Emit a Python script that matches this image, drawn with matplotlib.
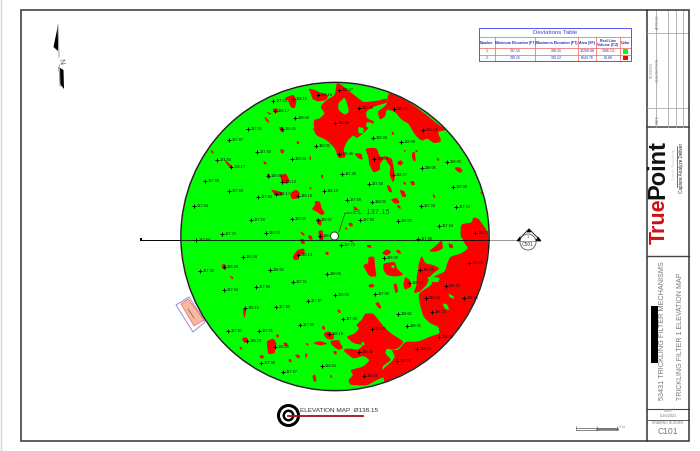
import numpy as np
import matplotlib
matplotlib.use("Agg")
import matplotlib.pyplot as plt
from matplotlib.patches import Circle, Polygon, Rectangle

plt.rcParams['font.family'] = ['Liberation Sans', 'DejaVu Sans']

# Survey points: page x, page y, elevation label
point_x = [273,293,318,275,295,248,282,229,316,257,217,231,292,205,268,282,229,276,258,298,324,194,251,292,318,222,266,320,
           339,359,394,335,423,373,401,339,374,447,422,342,393,369,453,347,372,421,456,360,398,439,475,418,
           196,243,298,224,200,270,327,293,256,224,308,245,276,300,228,259,329,247,275,261,283,322,
           341,384,469,420,409,446,335,375,426,464,432,398,343,407,372,439,417,359,397,364]
point_y = [101,99,95,111,118,129,129,140,146,152,160,167,159,181,176,182,191,194,197,196,191,206,220,219,220,234,233,236,
           90,108,109,123,130,138,142,154,159,162,168,174,175,184,187,200,202,206,207,220,221,226,233,239,
           240,257,255,267,271,270,274,282,287,290,301,308,307,325,331,331,334,341,347,363,372,366,
           245,258,263,270,283,286,295,294,298,298,312,314,319,326,329,337,349,352,361,376]
point_labels = ["137.83","138.10","138.18","138.17","138.08","137.83","138.25","137.87","138.02","137.83","137.84","138.17","138.04","137.88","138.08","138.12","137.84","138.17","137.84","138.10","138.10","137.84","137.90","138.05","138.07","137.75","138.00","138.04",
                "138.27","138.28","138.31","138.38","138.14","138.09","138.08","138.46","138.39","138.03","138.05","137.45","138.27","137.94","138.08","137.89","138.03","137.94","137.93","137.80","138.03","137.84","138.11","137.88",
                "137.64","138.28","138.13","138.28","137.92","138.01","138.06","137.91","137.86","137.94","137.87","138.15","137.86","137.90","137.83","137.91","138.18","138.20","138.23","137.89","137.87","138.04",
                "137.73","138.09","138.33","138.13","138.14","138.25","138.00","137.99","138.24","138.41","138.32","138.01","137.90","138.05","138.20","138.34","138.28","138.38","138.34","138.35"]

# Red regions (elevation above 138.15) traced per map quadrant
nw_origin = (180, 70)
nw_red = [
 [(385,55),(405,60),(420,68),(445,75),(440,90),(415,95),(398,88),(392,70)],
 [(312,85),(340,73),(350,90),(345,115),(332,112),(325,92)],
 [(277,118),(290,114),(297,125),(285,130)],
 [(258,125),(275,130),(270,135)],
 [(252,140),(262,145),(270,160),(260,155)],
 [(296,172),(308,170),(313,185),(305,188)],
 [(396,175),(418,179),(416,184),(402,182)],
 [(350,213),(358,215),(357,222),(351,222)],
 [(300,237),(313,240),(311,250),(303,250)],
 [(92,240),(101,245),(100,251),(94,248)],
 [(250,273),(260,277),(259,284),(252,282)],
 [(388,258),(393,260),(393,270),(389,270)],
 [(130,265),(142,275),(160,292),(155,297),(142,285)],
 [(260,310),(270,314),(271,325),(263,323)],
 [(300,316),(318,310),(328,330),(322,342),(306,338)],
 [(272,358),(290,362),(310,368),(305,378),(285,376)],
 [(330,370),(348,358),(360,368),(355,385),(335,388)],
 [(423,313),(430,315),(429,325),(424,324)],
 [(388,350),(395,353),(394,359),(390,357)],
 [(405,392),(420,395),(425,415),(435,430),(425,436),(410,425),(395,418),(405,405)],
 [(408,445),(425,450),(424,468),(412,462)],
 [(360,483),(372,490),(375,497),(366,495)],
 [(385,495),(396,500),(398,510),(387,508)],
 [(415,482),(428,480),(430,510),(418,510)],
]
ne_origin = (330, 70)
ne_red = [
 [(20,38),(35,45),(60,65),(85,85),(100,97),(145,92),(170,85),(172,98),(130,110),(108,125),(110,145),(135,155),(115,175),(100,190),(80,205),(70,195),(50,215),(40,240),(48,262),(25,265),(15,235),(-10,210),(-45,195),(-50,150),(-30,145),(-15,130),(-30,110),(-10,90),(15,75)],
 [(175,68),(200,75),(250,105),(290,135),(320,160),(350,180),(322,185),(335,215),(312,220),(292,205),(275,213),(255,195),(235,160),(215,150),(195,125),(170,118),(165,140),(150,150),(142,125),(170,105)],
 [(105,235),(140,233),(150,262),(170,258),(150,280),(150,300),(130,308),(118,285),(115,260)],
 [(72,250),(95,250),(98,270),(85,265)],
 [(165,258),(185,265),(190,285),(195,320),(190,340),(178,315),(182,290),(170,275)],
 [(200,280),(212,270),(220,278),(212,287)],
 [(170,345),(180,348),(188,368),(176,365)],
 [(208,360),(222,362),(230,380),(218,382)],
 [(182,388),(200,383),(210,398),(195,402)],
 [(200,405),(210,407),(213,417),(205,414)],
 [(220,335),(228,338),(227,344),(221,343)],
 [(240,333),(252,333),(255,345),(245,346)],
 [(185,185),(192,187),(191,195),(186,194)],
 [(222,240),(228,241),(227,245),(223,245)],
 [(256,240),(263,241),(262,246),(257,246)],
 [(248,245),(255,247),(257,275),(250,272),(245,258)],
 [(320,262),(328,268),(327,273),(321,270)],
 [(373,292),(390,292),(398,302),(392,309),(380,303)],
 [(308,372),(315,376),(316,384),(310,382)],
 [(68,408),(80,412),(85,422),(75,420)],
 [(55,460),(65,457),(70,468),(60,470)],
 [(45,470),(51,473),(52,480),(46,478)],
 [(450,365),(458,367),(460,373),(454,372)],
 [(392,462),(425,458),(430,442),(445,445),(470,480),(480,510),(392,510)],
]
sw_origin = (180, 235)
sw_red = [
 [(125,88),(137,88),(140,103),(128,102)],
 [(150,122),(158,125),(160,133),(153,130)],
 [(190,220),(200,218),(197,235),(194,250),(190,240)],
 [(338,65),(352,45),(372,40),(375,55),(360,60),(355,75),(342,75)],
 [(360,12),(372,12),(375,28),(364,26)],
 [(385,0),(395,3),(396,12),(388,10)],
 [(415,0),(430,2),(430,15),(418,14)],
 [(435,52),(445,50),(446,60),(438,59)],
 [(185,310),(200,306),(207,322),(192,323)],
 [(178,335),(186,338),(187,345),(180,342)],
 [(260,318),(280,310),(290,325),(285,340),(285,355),(265,358),(262,340)],
 [(310,322),(322,324),(323,335),(313,333)],
 [(288,298),(297,299),(296,308),(290,307)],
 [(238,362),(250,360),(252,369),(242,371)],
 [(325,372),(334,373),(335,382),(327,381)],
 [(345,360),(358,358),(360,370),(350,368)],
 [(375,357),(382,355),(381,368),(376,367)],
 [(377,323),(385,326),(386,332),(379,330)],
 [(398,324),(420,318),(445,326),(420,332)],
 [(458,318),(480,315),(480,340),(465,335)],
 [(425,275),(433,272),(436,285),(428,283)],
 [(430,296),(445,288),(462,298),(460,315),(440,312)],
 [(462,350),(470,350),(469,358),(464,357)],
 [(397,422),(406,418),(410,440),(401,440)],
 [(450,420),(456,422),(457,429),(451,427)],
]
se_origin = (330, 235)
se_red = [
 [(395,-5),(490,-5),(490,470),(170,470),(155,405),(185,380),(195,365),(185,345),(205,345),(225,320),(265,320),(300,305),(330,295),(325,275),(300,265),(280,245),(270,210),(265,175),(305,150),(310,125),(345,110),(350,90),(360,65),(395,55),(415,40),(400,20)],
 [(105,235),(130,235),(148,258),(165,280),(190,300),(222,320),(205,340),(185,345),(170,340),(165,355),(185,375),(155,395),(165,425),(140,435),(110,452),(60,450),(55,435),(70,420),(60,405),(100,395),(120,375),(100,362),(70,372),(38,345),(55,340),(85,345),(100,330),(70,325),(48,305),(75,295),(88,280),(78,270),(95,255)],
 [(295,50),(320,30),(335,15),(340,40),(320,50)],
 [(355,25),(368,28),(370,40),(358,38)],
 [(265,90),(275,60),(285,85),(310,90),(330,100),(310,115),(300,125),(290,150),(270,170),(250,175),(260,150),(260,125),(265,100)],
 [(225,125),(240,135),(245,155),(225,165),(220,150)],
 [(155,55),(170,42),(185,50),(172,62)],
 [(197,45),(208,45),(215,56),(203,55)],
 [(115,65),(133,65),(135,95),(140,125),(118,125),(98,90),(115,85)],
 [(160,85),(195,80),(200,100),(222,120),(195,125),(170,120),(160,105)],
 [(190,148),(200,145),(205,170),(196,175)],
 [(115,150),(130,146),(133,156),(118,158)],
 [(135,205),(145,200),(155,218),(147,221)],
 [(22,224),(30,224),(33,235),(25,232)],
 [(110,30),(122,30),(125,38),(113,38)],
 [(60,15),(70,17),(68,22),(60,21)],
 [(0,318),(25,315),(40,340),(25,345),(5,330)],
 [(10,348),(19,348),(20,358),(12,358)],
]
# Green islands inside the red regions
ne_green = [
 [(25,100),(45,80),(58,125),(45,135),(25,120)],
 [(85,170),(102,175),(100,190),(85,190)],
 [(110,155),(130,160),(118,175),(108,170)],
]
se_green = [
 [(290,125),(330,128),(325,142),(300,140)],
 [(355,175),(372,185),(372,192),(358,186)],
 [(337,205),(352,208),(358,225),(345,222)],
 [(95,320),(103,322),(103,332),(95,330)],
 [(185,90),(195,92),(192,100),(184,98)],
]

# Deviations table
table_headers = ["Number", "Minimum Elevation (FT)", "Maximum Elevation (FT)", "Area (SF)", "Real Line\nVolume (CU)", "Color"]
table_rows = [["1", "137.15", "138.15", "32298.88", "1306.13"],
              ["2", "138.15", "139.12", "6543.76", "88.88"]]
table_colors = ["#00ff00", "#ff0000"]


def smooth(poly, passes=2, cut=0.16):
    pts = np.asarray(poly, float)
    for _ in range(passes):
        nxt = np.roll(pts, -1, axis=0)
        pts = np.column_stack([(1 - cut) * pts + cut * nxt, cut * pts + (1 - cut) * nxt]).reshape(-1, 2)
    return pts


def place(poly, origin):
    return np.asarray(poly, float) / 3 + np.asarray(origin, float)


fig = plt.figure(figsize=(7.0, 4.51), dpi=100)
ax = fig.add_axes([0, 0, 1, 1])
ax.set_xlim(0, 700)
ax.set_ylim(451, 0)
ax.axis("off")

# sheet frame and title block
ax.add_patch(Rectangle((21, 10), 668, 431, fill=False, ec="#333333", lw=1.1, zorder=5))
ax.plot([0.5, 0.5], [0, 451], color="#c8d4f0", lw=1.0)
ax.plot([647, 647], [10, 441], color="#333333", lw=1.1)
for y, lw in [(127, 1.1), (256, 1.0), (409, 0.8), (420, 0.6)]:
    ax.plot([647, 689], [y, y], color="#444444", lw=lw)
for x in [656, 668, 676, 683]:
    ax.plot([x, x], [10, 127], color="#aaaaaa", lw=0.6)
for y in [33, 108]:
    ax.plot([647, 689], [y, y], color="#aaaaaa", lw=0.6)
ax.text(652, 70, "REVISION", rotation=90, fontsize=2.4, color="#888888", ha="center", va="center")
ax.text(658, 70, "DESCRIPTION", rotation=90, fontsize=2.6, color="#888888", ha="center", va="center")
ax.text(658, 22, "APPRVD", rotation=90, fontsize=2.6, color="#888888", ha="center", va="center")
ax.text(658, 119, "DATE", rotation=90, fontsize=2.6, color="#888888", ha="center", va="center")

# logo
ax.text(659, 244, "True", rotation=90, fontsize=15.5, fontweight="bold", color="#d01010", ha="center", va="bottom")
ax.text(658, 199, "Point", rotation=90, fontsize=17, fontweight="bold", color="#111111", ha="center", va="bottom")
ax.text(673.5, 164, "Laser Scanning", rotation=90, fontsize=3.2, color="#cccccc", ha="center", va="center")
ax.plot([676.5, 676.5], [146, 187], color="#333333", lw=0.5)
ax.text(681, 168, "Capture Analyze Deliver", rotation=90, fontsize=3.3, color="#222222", ha="center", va="center")

ax.add_patch(Rectangle((651, 306), 6.5, 57, fc="black", ec="none"))
ax.text(663, 331, "53431 TRICKLING FILTER MECHANISMS", rotation=90, fontsize=5.25, color="#777777", ha="center", va="center")
ax.text(680, 336, "TRICKLING FILTER 1 ELEVATION MAP", rotation=90, fontsize=5.0, color="#777777", ha="center", va="center")
ax.text(668, 411.5, "DATE", fontsize=2.4, color="#888888", ha="center", va="center")
ax.text(668, 416, "5/20/2021", fontsize=2.8, color="#777777", ha="center", va="center")
ax.text(668, 423, "DRAWING NUMBER", fontsize=2.4, color="#888888", ha="center", va="center")
ax.text(668, 432, "C101", fontsize=6.2, color="#777777", ha="center", va="center")

# north arrow
ax.plot([58, 60], [25, 86], color="#aaaaaa", lw=0.8)
ax.add_patch(Polygon([(58, 25), (53.5, 47), (58, 51)], fc="black", ec="none"))
ax.add_patch(Polygon([(58.5, 67), (63.5, 70), (64, 89), (60, 84)], fc="black", ec="none"))
ax.text(60, 61, "N", rotation=-80, fontsize=5.5, color="#555555", ha="center", va="center",
        bbox=dict(fc="white", ec="none", pad=0.5))

# table
T_left, T_right, T_top, T_bot = 479, 631, 28, 61
col_edges = [479, 495, 535, 578, 596, 620, 631]
row_edges = [28, 37, 48, 55, 61]
blue = "#3344dd"
for y in row_edges[1:-1]:
    ax.plot([T_left, T_right], [y, y], color="#f05a5a", lw=0.5, zorder=3)
for x in col_edges[1:-1]:
    ax.plot([x, x], [37, 61], color="#f05a5a", lw=0.5, zorder=3)
ax.add_patch(Rectangle((T_left, T_top), T_right - T_left, T_bot - T_top, fill=False, ec="#5555ee", lw=0.7, zorder=4))
ax.text((T_left + T_right) / 2, 32.7, "Deviations Table", fontsize=4.3, color=blue, ha="center", va="center")
for i, head in enumerate(table_headers):
    ax.text((col_edges[i] + col_edges[i + 1]) / 2, 42.7, head, fontsize=2.6, color="#2233bb",
            fontweight="bold", ha="center", va="center", linespacing=1.0)
for r, row in enumerate(table_rows):
    yc = (row_edges[2 + r] + row_edges[3 + r]) / 2
    for c, val in enumerate(row):
        ax.text((col_edges[c] + col_edges[c + 1]) / 2, yc, val, fontsize=2.6, color="#2233bb", ha="center", va="center")
    ax.add_patch(Rectangle((622.5, row_edges[2 + r] + 1), 5, row_edges[3 + r] - row_edges[2 + r] - 2,
                           fc=table_colors[r], ec="none", zorder=4))

# tag rectangle, partly under the disc
ax.add_patch(Polygon([(176, 305), (189, 297), (205, 322), (193, 332)], fill=False, ec="#9a88d0", lw=0.7, zorder=1))
ax.add_patch(Polygon([(181, 304), (188, 299), (204, 320), (194, 326)], fc="#f8b9a0", ec="#f06060", lw=0.5, zorder=1))
ax.plot([188, 194], [309, 318], color="#777777", lw=0.6, zorder=1)

# section line
ax.plot([140, 182], [239.7, 239.7], color="black", lw=0.7, zorder=1)
ax.add_patch(Rectangle((139.5, 238), 2.5, 3.2, fc="black", ec="none", zorder=1))
ax.plot([489, 520], [239.7, 239.7], color="#888888", lw=0.6, zorder=1)

# disc
cx, cy, rad = 335, 236.5, 153.5
disc = Circle((cx, cy), rad, fc="#00ff00", ec="none", zorder=2)
ax.add_patch(disc)
for origin, polys in [(nw_origin, nw_red), (ne_origin, ne_red), (sw_origin, sw_red), (se_origin, se_red)]:
    for poly in polys:
        patch = Polygon(smooth(place(poly, origin)), fc="#ff0000", ec="none", zorder=3)
        ax.add_patch(patch)
        patch.set_clip_path(disc)
for origin, polys in [(ne_origin, ne_green), (se_origin, se_green)]:
    for poly in polys:
        patch = Polygon(smooth(place(poly, origin)), fc="#00ff00", ec="none", zorder=3.5)
        ax.add_patch(patch)
        patch.set_clip_path(disc)
ax.add_patch(Circle((cx, cy), rad + 0.6, fill=False, ec="#222222", lw=1.1, zorder=4))
ax.plot([182, 489], [239.7, 239.7], color="black", lw=0.6, zorder=4)

# survey points
ax.plot(point_x, point_y, linestyle="none", marker="+", ms=3.4, mew=0.7, color="black", zorder=6)
for x, y, lab in zip(point_x, point_y, point_labels):
    ax.text(x + 2.2, y + 0.1, lab, fontsize=2.8, color="#111111", ha="left", va="center", zorder=6)

# centre point
ax.add_patch(Circle((334.5, 236), 4, fc="white", ec="#222222", lw=0.6, zorder=7))
ax.plot([339, 345, 352], [232, 213, 213], color="#333333", lw=0.5, zorder=7)
ax.text(353, 213, "EL: 137.15", fontsize=5.4, color="#24503a", ha="left", va="center", zorder=7)

# section marker
ax.add_patch(Polygon([(518, 240), (529, 229), (540, 240)], fill=False, ec="#222222", lw=0.7))
ax.add_patch(Polygon([(527, 232), (529, 229), (531, 232)], fc="black", ec="black", lw=0.5))
ax.add_patch(Polygon([(517, 241), (520, 237), (522, 241)], fc="black", ec="black", lw=0.5))
ax.add_patch(Polygon([(536, 241), (538, 237), (541, 241)], fc="black", ec="black", lw=0.5))
ax.add_patch(Circle((528, 242), 8, fc="white", ec="#555555", lw=0.6, zorder=3))
ax.plot([520, 536], [241, 241], color="#555555", lw=0.4, zorder=4)
ax.text(528, 237.5, "1", fontsize=3, color="#555555", ha="center", va="center", zorder=4)
ax.text(528, 245, "C501", fontsize=3.6, color="#444444", ha="center", va="center", zorder=4)

# drawing title
for r, col in [(11.5, "black"), (8.5, "white"), (6, "black"), (3.5, "white")]:
    ax.add_patch(Circle((288.5, 415.5), r, fc=col, ec="none", zorder=3))
ax.plot([288, 363], [415.5, 415.5], color="#a01018", lw=1.3, zorder=4)
ax.text(300.5, 410, "ELEVATION MAP  Ø138.15", fontsize=4.6, color="#333333", ha="left", va="center")

# scale bar
ax.plot([576, 617], [427.5, 427.5], color="#555555", lw=0.5)
ax.plot([597, 617], [429, 429], color="#777777", lw=1.8)
for x in [576, 597, 617]:
    ax.plot([x, x], [426, 430], color="#555555", lw=0.4)
ax.plot([576, 597], [430, 430], color="#555555", lw=0.5)
ax.text(619, 427.5, "1' in", fontsize=2.4, color="#777777", ha="left", va="center")

fig.savefig("out.png", dpi=100)
